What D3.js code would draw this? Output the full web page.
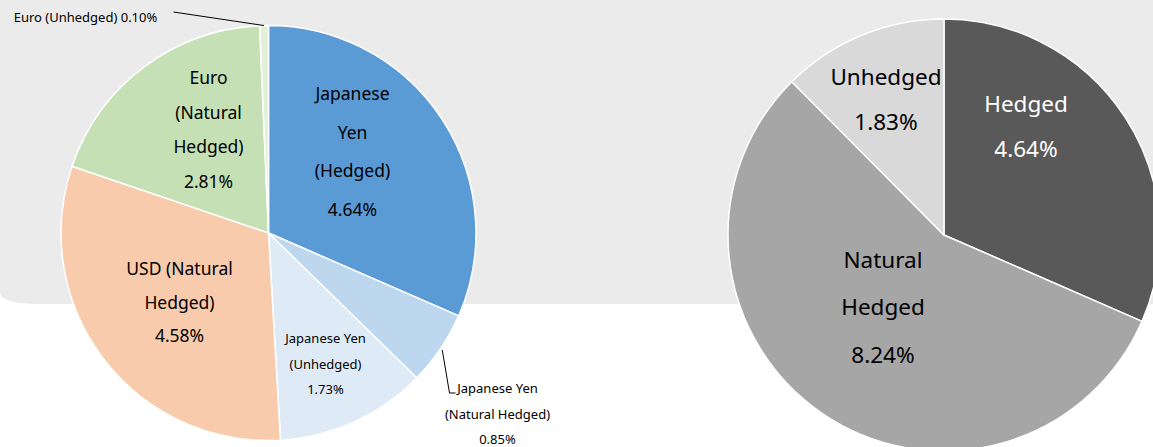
<!DOCTYPE html>
<html>
<head>
<meta charset="utf-8">
<script src="https://cdn.jsdelivr.net/npm/d3@7"></script>
<style>
  body { margin: 0; background: #fff; }
  text { font-family: "Noto Sans", "Open Sans", sans-serif; fill: #000; }
</style>
</head>
<body>
<div id="chart"></div>
<script>
// data - currency breakdown (left pie)
var currencyNames = ["Japanese Yen (Hedged)", "Japanese Yen (Natural Hedged)", "Japanese Yen (Unhedged)",
                     "USD (Natural Hedged)", "Euro (Natural Hedged)", "Euro (Unhedged)"];
var currencyValues = [4.64, 0.85, 1.73, 4.58, 2.81, 0.10];
var currencyColors = ["#5b9bd5", "#bdd7ee", "#deebf7", "#f8cbad", "#c5e0b4", "#e2f0d9"];

// data - hedge type (right pie)
var hedgeNames = ["Hedged", "Natural Hedged", "Unhedged"];
var hedgeValues = [4.64, 8.24, 1.83];
var hedgeColors = ["#595959", "#a6a6a6", "#d9d9d9"];

var width = 1153, height = 447;

var svg = d3.select("#chart")
    .append("svg")
    .attr("width", width)
    .attr("height", height);

// grey panel behind, rounded bottom-left corner
var pb = 304, r0 = 40;
svg.append("path")
    .attr("d", "M0,0 H" + width + " V" + pb + " H" + r0 +
        " Q0," + pb + " 0," + (pb - r0 * 0.3) + " Z")
    .attr("fill", "#ebebeb");

var pie = d3.pie().sort(null).value(function(d) { return d; });

// left pie
var left = { cx: 268.5, cy: 233, r: 207.5 };
var gL = svg.append("g").attr("transform", "translate(" + left.cx + "," + left.cy + ")");
var arcL = d3.arc().innerRadius(0).outerRadius(left.r);

gL.selectAll("path")
    .data(pie(currencyValues))
    .enter()
    .append("path")
    .attr("d", arcL)
    .attr("fill", function(d, i) { return currencyColors[i]; })
    .attr("stroke", "#fff")
    .attr("stroke-width", 1.5);

// label lines and positions relative to pie centre (placed like the excel export)
var leftLabels = [
    { lines: ["Japanese", "Yen", "(Hedged)", "4.64%"], x: 84, y: -140, dy: 38.5, size: 17.5 },
    { lines: ["Japanese Yen", "(Natural Hedged)", "0.85%"], x: 229, y: 155, dy: 25.5, size: 13 },
    { lines: ["Japanese Yen", "(Unhedged)", "1.73%"], x: 57, y: 105, dy: 25.5, size: 13 },
    { lines: ["USD (Natural", "Hedged)", "4.58%"], x: -89, y: 35, dy: 33.5, size: 17.5 },
    { lines: ["Euro", "(Natural", "Hedged)", "2.81%"], x: -60, y: -156, dy: 34.5, size: 17.5 },
    { lines: ["Euro (Unhedged) 0.10%"], x: -183, y: -216, dy: 0, size: 13 }
];

leftLabels.forEach(function(l) {
    var t = gL.append("text")
        .attr("text-anchor", "middle")
        .attr("font-size", l.size);
    l.lines.forEach(function(s, k) {
        t.append("tspan")
            .attr("x", l.x)
            .attr("y", l.y + k * l.dy)
            .attr("dominant-baseline", "central")
            .text(s);
    });
});

// leader lines for the two small slices
var slicesL = pie(currencyValues);
function edge(d, r) {
    var a = (d.startAngle + d.endAngle) / 2;
    return [Math.sin(a) * r, -Math.cos(a) * r];
}
var pNat = edge(slicesL[1], left.r + 2);
gL.append("polyline")
    .attr("points", [pNat, [181, 160], [187, 160]].map(function(p) { return p.join(","); }).join(" "))
    .attr("fill", "none")
    .attr("stroke", "#000")
    .attr("stroke-width", 1);
var pEu = edge(slicesL[5], left.r);
gL.append("polyline")
    .attr("points", [[-95, -221], pEu].map(function(p) { return p.join(","); }).join(" "))
    .attr("fill", "none")
    .attr("stroke", "#000")
    .attr("stroke-width", 1);

// right pie
var right = { cx: 944, cy: 235, r: 216 };
var gR = svg.append("g").attr("transform", "translate(" + right.cx + "," + right.cy + ")");
var arcR = d3.arc().innerRadius(0).outerRadius(right.r);

gR.selectAll("path")
    .data(pie(hedgeValues))
    .enter()
    .append("path")
    .attr("d", arcR)
    .attr("fill", function(d, i) { return hedgeColors[i]; })
    .attr("stroke", "#fff")
    .attr("stroke-width", 1.5);

var rightLabels = [
    { lines: ["Hedged", "4.64%"], x: 82, y: -132, dy: 45, color: "#fff" },
    { lines: ["Natural", "Hedged", "8.24%"], x: -61, y: 24, dy: 47.5, color: "#000" },
    { lines: ["Unhedged", "1.83%"], x: -58, y: -159, dy: 45, color: "#000" }
];

rightLabels.forEach(function(l) {
    var t = gR.append("text")
        .attr("text-anchor", "middle")
        .attr("font-size", 22.5)
        .style("fill", l.color);
    l.lines.forEach(function(s, k) {
        t.append("tspan")
            .attr("x", l.x)
            .attr("y", l.y + k * l.dy)
            .attr("dominant-baseline", "central")
            .text(s);
    });
});
</script>
</body>
</html>
